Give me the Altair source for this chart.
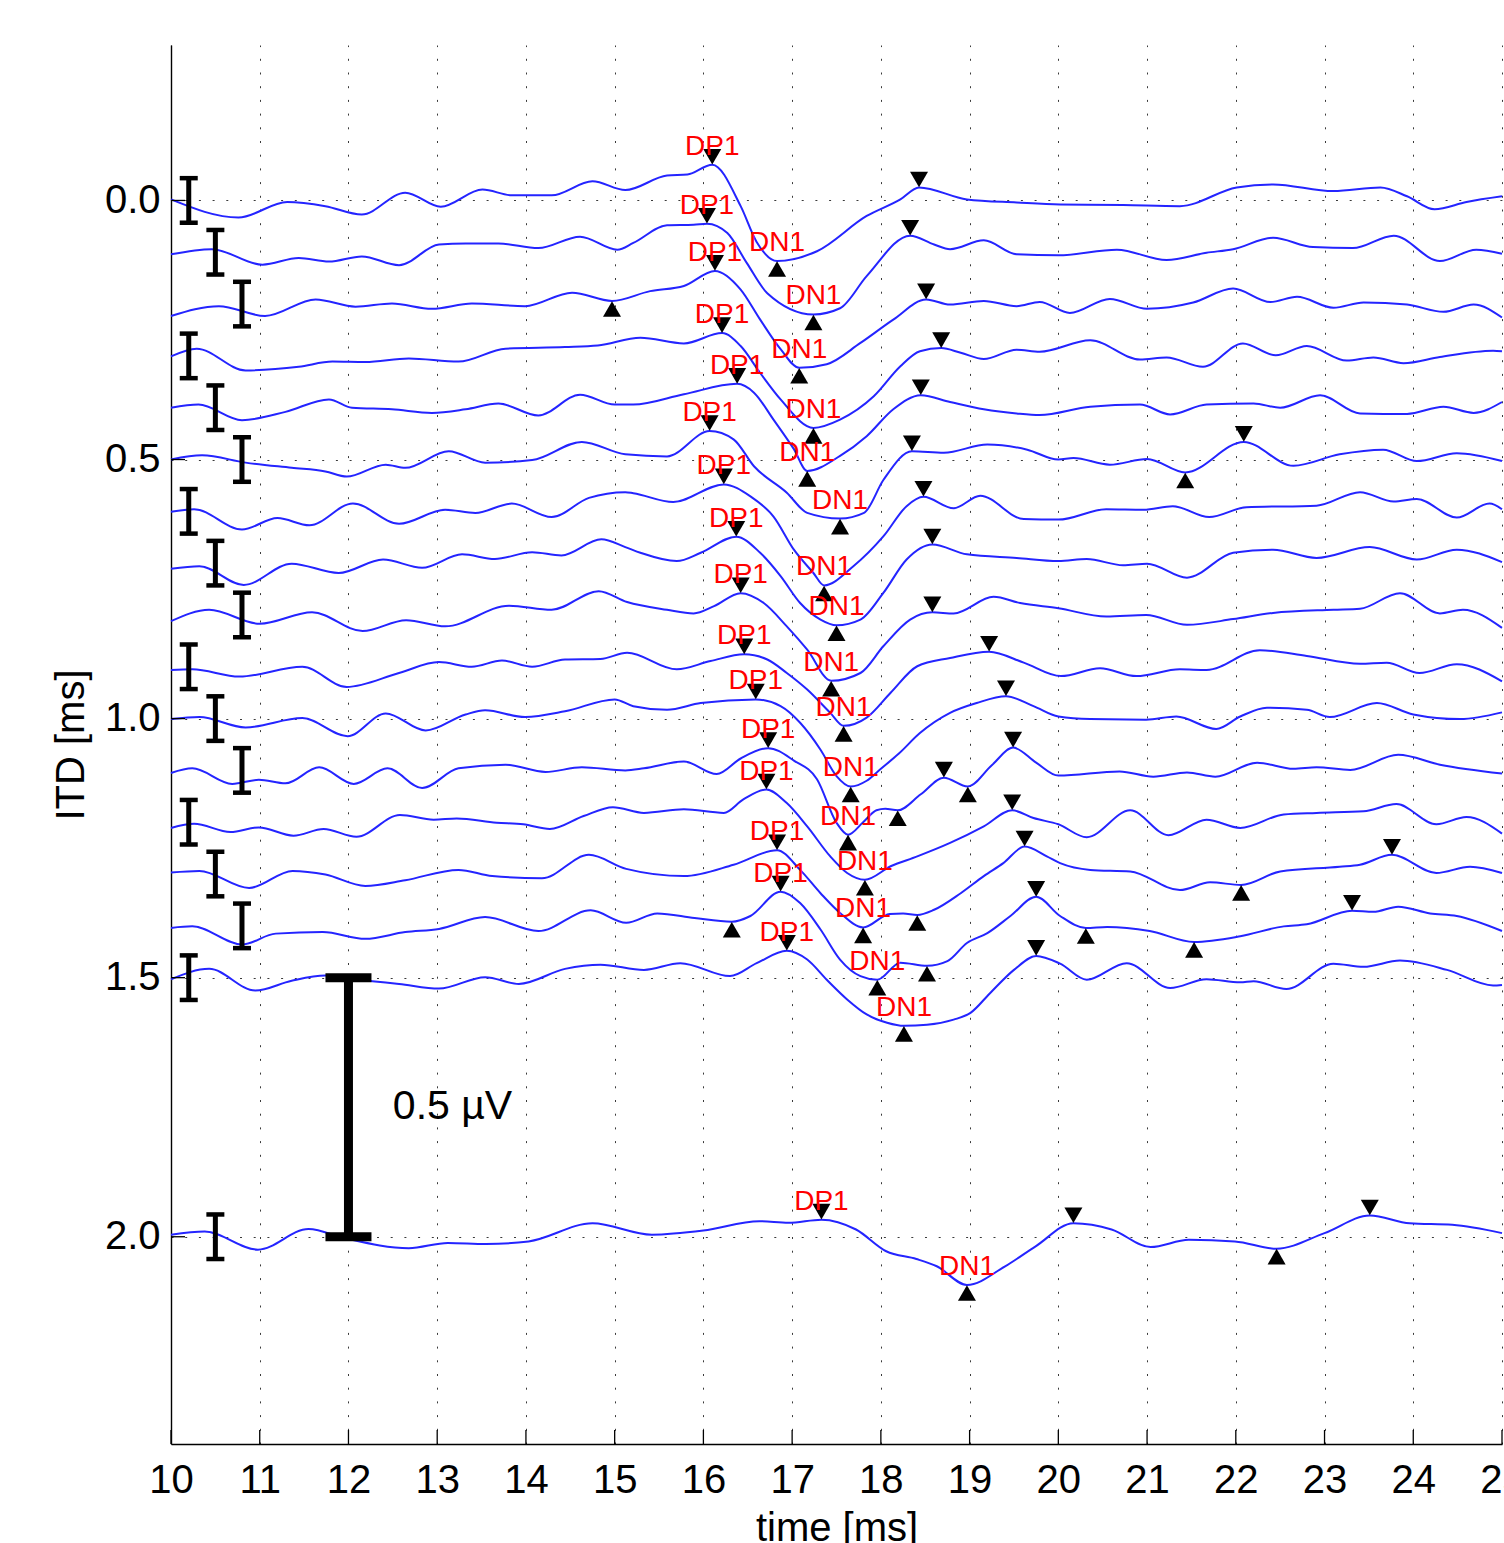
import altair as alt
import pandas as pd

# ------------------------------------------------------------------ data
# Averaged evoked responses for each ITD (ms).  Each trace is a list of
# (time in ms, amplitude in µV) samples at its turning points.
ITD_0_0 = [(10.00, 0.002), (10.76, -0.033), (11.31, -0.003), (11.74, -0.011), (12.15, -0.027),
           (12.64, 0.015), (13.04, -0.012), (13.51, 0.021), (13.84, 0.010), (14.29, 0.010),
           (14.75, 0.037), (15.12, 0.020), (15.59, 0.048), (15.82, 0.050), (16.10, 0.069),
           (16.42, -0.011), (16.60, -0.080), (16.83, -0.117), (17.28, -0.098), (17.84, -0.030),
           (18.22, 0.002), (18.43, 0.025), (18.97, 0.002), (19.53, -0.004), (20.02, -0.008),
           (20.73, -0.009), (21.37, -0.011), (22.01, 0.025), (22.42, 0.031), (23.10, 0.018),
           (23.63, 0.025), (23.93, 0.008), (24.24, -0.017), (24.60, -0.003), (25.00, 0.008)]
ITD_0_1 = [(10.00, -0.004), (10.46, 0.006), (11.03, -0.024), (11.44, -0.011), (11.78, -0.018),
           (12.15, -0.008), (12.57, -0.025), (13.02, 0.015), (13.32, 0.017), (13.69, 0.017),
           (14.14, 0.008), (14.61, 0.030), (15.03, 0.005), (15.21, 0.018), (15.59, 0.052),
           (15.89, 0.053), (16.04, 0.055), (16.27, 0.037), (16.49, -0.021), (16.72, -0.079),
           (17.24, -0.120), (17.54, -0.108), (17.84, -0.046), (18.33, 0.032), (18.60, 0.015),
           (18.78, 0.006), (19.16, 0.023), (19.53, -0.004), (20.00, -0.006), (20.66, 0.005),
           (21.22, -0.015), (21.67, -0.001), (21.97, 0.006), (22.42, 0.028), (22.87, 0.010),
           (23.32, 0.008), (23.78, 0.032), (24.30, -0.017), (24.71, 0.005), (25.00, -0.003)]
ITD_0_2 = [(10.00, -0.023), (10.54, -0.004), (11.06, -0.023), (11.63, 0.009), (12.08, -0.005),
           (12.49, 0.001), (12.94, -0.009), (13.39, 0.001), (13.99, -0.004), (14.52, 0.022),
           (14.97, 0.006), (15.40, 0.025), (15.78, 0.035), (16.13, 0.064), (16.42, 0.028),
           (16.64, -0.030), (16.87, -0.087), (17.08, -0.123), (17.39, -0.116), (17.77, -0.075),
           (18.14, -0.030), (18.51, 0.009), (18.78, -0.001), (19.16, 0.006), (19.53, -0.004),
           (19.79, 0.004), (20.13, -0.017), (20.58, 0.010), (21.00, -0.009), (21.52, 0.003),
           (21.97, 0.030), (22.39, 0.004), (22.69, 0.014), (23.10, -0.007), (23.44, 0.003),
           (23.93, -0.001), (24.34, -0.015), (24.68, -0.001), (25.00, -0.026)]
ITD_0_3 = [(10.00, -0.001), (10.29, 0.014), (10.84, -0.028), (11.44, -0.021), (11.82, -0.011),
           (12.19, -0.012), (12.68, -0.005), (13.24, -0.011), (13.77, 0.014), (14.44, 0.017),
           (14.81, 0.020), (15.29, 0.035), (15.78, 0.024), (16.21, 0.044), (16.42, 0.019),
           (16.64, -0.033), (16.87, -0.084), (17.24, -0.139), (17.54, -0.123), (17.92, -0.078),
           (18.22, -0.020), (18.44, 0.009), (18.68, 0.015), (18.90, 0.006), (19.16, -0.006),
           (19.53, 0.012), (19.79, 0.008), (20.36, 0.030), (20.92, -0.007), (21.22, -0.003),
           (21.63, -0.021), (22.08, 0.024), (22.45, 0.001), (22.80, 0.019), (23.25, -0.009),
           (23.55, -0.003), (23.89, -0.014), (24.30, -0.002), (24.90, 0.010), (25.00, 0.009)]
ITD_0_4 = [(10.00, 0.000), (10.31, 0.006), (10.80, -0.024), (11.29, -0.008), (11.78, 0.016),
           (12.04, 0.000), (12.49, -0.003), (12.94, -0.010), (13.32, -0.003), (13.69, 0.008),
           (14.14, -0.015), (14.61, 0.025), (15.00, 0.006), (15.21, 0.006), (15.78, 0.026),
           (16.38, 0.046), (16.57, 0.029), (16.79, -0.023), (17.02, -0.080), (17.17, -0.122),
           (17.54, -0.093), (17.84, -0.055), (18.14, -0.003), (18.45, 0.024), (18.78, 0.011),
           (19.16, -0.003), (19.53, -0.011), (19.79, -0.014), (20.36, 0.002), (20.92, 0.006),
           (21.26, -0.013), (21.67, 0.006), (22.20, 0.008), (22.50, 0.000), (22.95, 0.024),
           (23.40, -0.011), (23.93, -0.012), (24.34, 0.002), (24.68, -0.010), (25.00, 0.011)]
ITD_0_5 = [(10.00, 0.000), (10.35, 0.008), (10.84, -0.006), (11.36, -0.016), (11.74, -0.023),
           (11.98, -0.033), (12.42, -0.010), (12.64, -0.016), (13.13, 0.016), (13.54, -0.006),
           (14.07, -0.001), (14.63, 0.034), (15.12, 0.010), (15.59, 0.006), (16.07, 0.055),
           (16.34, 0.039), (16.57, -0.013), (16.94, -0.064), (17.17, -0.103), (17.54, -0.114),
           (17.81, -0.103), (18.03, -0.039), (18.35, 0.016), (18.71, 0.013), (19.20, 0.029),
           (19.65, 0.019), (20.00, 0.000), (20.17, 0.003), (20.58, -0.010), (21.00, 0.001),
           (21.43, -0.025), (22.09, 0.034), (22.65, -0.012), (23.17, 0.010), (23.66, 0.019),
           (24.04, -0.003), (24.49, 0.012), (25.00, -0.003)]
ITD_0_6 = [(10.00, -0.001), (10.26, 0.004), (10.80, -0.035), (11.20, -0.013), (11.56, -0.027),
           (12.05, 0.015), (12.57, -0.024), (13.09, 0.003), (13.43, -0.003), (13.84, 0.015),
           (14.29, -0.011), (14.71, 0.026), (15.12, 0.037), (15.21, 0.035), (15.66, 0.018),
           (16.23, 0.052), (16.53, 0.029), (16.79, -0.010), (17.02, -0.074), (17.24, -0.119),
           (17.36, -0.143), (17.69, -0.106), (18.03, -0.048), (18.29, 0.010), (18.48, 0.028),
           (18.82, 0.006), (19.12, 0.030), (19.61, -0.015), (20.00, -0.016), (20.54, 0.004),
           (20.96, 0.003), (21.29, 0.010), (21.70, -0.011), (22.12, 0.008), (22.91, 0.011),
           (23.40, 0.037), (23.78, 0.019), (24.04, 0.024), (24.49, -0.012), (24.86, 0.015),
           (25.00, 0.004)]
ITD_0_7 = [(10.00, -0.011), (10.32, -0.006), (10.82, -0.042), (11.36, -0.001), (11.89, -0.019),
           (12.39, 0.007), (12.83, -0.009), (13.28, 0.017), (13.65, 0.008), (14.07, 0.021),
           (14.40, 0.015), (14.85, 0.046), (15.12, 0.031), (15.29, 0.020), (15.70, 0.004),
           (15.97, 0.020), (16.37, 0.051), (16.64, 0.020), (16.87, -0.025), (17.09, -0.077),
           (17.32, -0.109), (17.50, -0.120), (17.77, -0.109), (18.03, -0.057), (18.29, 0.007),
           (18.58, 0.036), (18.97, 0.017), (19.53, 0.010), (20.00, 0.004), (20.32, 0.008),
           (20.73, -0.004), (21.00, -0.001), (21.45, -0.028), (21.97, 0.020), (22.42, 0.026),
           (22.91, 0.010), (23.51, 0.031), (24.04, 0.007), (24.49, 0.026), (25.00, 0.002)]
ITD_0_8 = [(10.00, -0.012), (10.43, 0.010), (11.00, -0.017), (11.59, 0.005), (12.16, -0.031),
           (12.65, -0.010), (13.09, -0.022), (13.81, 0.018), (14.29, 0.010), (14.82, 0.046),
           (15.14, 0.025), (15.59, 0.010), (15.89, 0.003), (16.12, 0.017), (16.42, 0.042),
           (16.68, 0.023), (16.94, -0.022), (17.17, -0.067), (17.44, -0.127), (17.77, -0.112),
           (18.03, -0.060), (18.33, -0.009), (18.58, 0.005), (18.82, 0.003), (19.27, 0.035),
           (19.57, 0.023), (20.00, 0.013), (20.54, -0.003), (20.99, 0.000), (21.45, -0.019),
           (21.97, -0.008), (22.42, 0.004), (23.10, 0.010), (23.40, 0.012), (23.85, 0.042),
           (24.30, 0.003), (24.56, 0.010), (25.00, -0.025)]
ITD_0_9 = [(10.00, -0.006), (10.24, -0.005), (10.77, -0.019), (11.48, 0.000), (11.98, -0.039),
           (12.57, -0.012), (13.02, 0.009), (13.39, 0.000), (13.73, 0.012), (14.07, 0.000),
           (14.44, 0.014), (14.84, 0.015), (15.14, 0.027), (15.70, -0.005), (16.08, 0.011),
           (16.46, 0.024), (16.72, 0.014), (16.94, -0.012), (17.17, -0.044), (17.43, -0.089),
           (17.58, -0.114), (17.84, -0.098), (18.11, -0.050), (18.41, 0.001), (18.78, 0.017),
           (19.22, 0.029), (19.61, 0.008), (20.03, -0.018), (20.47, -0.003), (20.88, -0.018),
           (21.37, -0.005), (21.67, -0.006), (22.27, 0.032), (22.80, 0.021), (23.40, 0.006),
           (23.70, 0.008), (24.07, -0.012), (24.49, 0.005), (25.00, -0.028)]
ITD_1_0 = [(10.00, -0.001), (10.32, 0.003), (10.84, -0.017), (11.48, 0.001), (11.99, -0.034),
           (12.42, 0.010), (12.87, -0.023), (13.32, 0.008), (13.54, 0.016), (13.99, 0.003),
           (14.44, 0.014), (15.00, 0.037), (15.21, 0.024), (15.59, 0.017), (15.97, 0.030),
           (16.59, 0.037), (16.87, 0.024), (17.09, -0.008), (17.32, -0.060), (17.50, -0.111),
           (17.66, -0.131), (17.84, -0.120), (18.00, -0.097), (18.20, -0.068), (18.44, -0.028),
           (18.78, 0.011), (19.08, 0.030), (19.41, 0.043), (19.72, 0.024), (20.00, 0.004),
           (20.36, -0.001), (20.99, -0.002), (21.33, 0.004), (21.78, -0.020), (22.05, 0.004),
           (22.35, 0.021), (22.80, 0.017), (23.06, 0.003), (23.59, 0.030), (24.00, 0.008),
           (24.53, -0.001), (25.00, 0.012)]
ITD_1_1 = [(10.00, -0.005), (10.24, 0.004), (10.69, -0.026), (10.99, -0.018), (11.29, -0.025),
           (11.67, 0.006), (12.06, -0.026), (12.44, 0.004), (12.83, -0.034), (13.24, 0.004),
           (13.77, 0.011), (14.22, -0.003), (14.63, 0.006), (15.12, 0.000), (15.33, 0.004),
           (15.78, 0.017), (16.15, -0.007), (16.42, 0.023), (16.73, 0.043), (17.02, 0.019),
           (17.28, -0.017), (17.50, -0.101), (17.63, -0.124), (17.80, -0.100), (17.95, -0.077),
           (18.05, -0.074), (18.19, -0.077), (18.45, -0.046), (18.71, -0.014), (18.98, -0.031),
           (19.25, 0.010), (19.49, 0.044), (19.75, 0.015), (20.00, -0.010), (20.69, -0.002),
           (21.07, -0.012), (21.45, -0.004), (21.77, -0.012), (22.24, 0.015), (22.65, 0.003),
           (22.91, 0.006), (23.29, 0.001), (23.83, 0.030), (24.30, 0.011), (25.00, -0.006)]
ITD_1_2 = [(10.00, -0.011), (10.26, -0.003), (10.67, -0.019), (10.99, -0.010), (11.38, -0.026),
           (11.72, -0.013), (12.09, -0.028), (12.58, 0.014), (12.96, 0.005), (13.22, 0.007),
           (13.67, -0.001), (13.97, -0.004), (14.27, -0.013), (14.65, 0.012), (14.98, 0.029),
           (15.33, 0.018), (15.78, 0.025), (16.23, 0.018), (16.45, 0.044), (16.71, 0.063),
           (16.94, 0.037), (17.17, -0.008), (17.43, -0.066), (17.62, -0.098), (17.82, -0.111),
           (18.11, -0.085), (18.41, -0.066), (18.78, -0.040), (19.16, -0.008), (19.48, 0.023),
           (19.72, 0.008), (20.00, -0.004), (20.32, -0.029), (20.81, 0.023), (21.24, -0.025),
           (21.67, 0.005), (22.05, -0.011), (22.54, 0.015), (22.91, 0.018), (23.44, 0.021),
           (23.81, 0.035), (24.26, -0.004), (24.60, 0.010), (25.00, -0.022)]
ITD_1_3 = [(10.00, 0.003), (10.32, 0.006), (10.88, -0.027), (11.37, 0.006), (11.74, -0.001),
           (12.19, -0.023), (12.64, -0.012), (13.24, 0.008), (13.62, -0.004), (14.18, -0.008),
           (14.71, 0.037), (15.13, 0.010), (15.78, -0.004), (16.34, 0.018), (16.83, 0.046),
           (17.09, 0.008), (17.32, -0.037), (17.54, -0.075), (17.80, -0.103), (18.10, -0.077),
           (18.25, -0.076), (18.41, -0.079), (18.60, -0.069), (18.90, -0.037), (19.16, -0.004),
           (19.38, 0.021), (19.62, 0.053), (19.87, 0.034), (20.02, 0.021), (20.36, 0.008),
           (20.81, 0.005), (21.37, -0.031), (21.71, -0.016), (22.06, -0.021), (22.50, 0.005),
           (23.17, 0.014), (23.40, 0.018), (23.76, 0.037), (24.26, 0.002), (24.64, 0.014),
           (25.00, 0.002)]
ITD_1_4 = [(10.00, -0.004), (10.24, -0.001), (10.80, -0.036), (11.18, -0.015), (11.71, -0.012),
           (12.19, -0.025), (12.64, -0.012), (13.02, -0.006), (13.54, 0.017), (14.14, -0.010),
           (14.73, 0.030), (15.13, 0.006), (15.48, 0.024), (15.90, 0.015), (16.32, 0.008),
           (16.53, 0.019), (16.87, 0.066), (17.09, 0.044), (17.32, -0.007), (17.54, -0.065),
           (17.77, -0.097), (17.96, -0.104), (18.22, -0.071), (18.52, -0.077), (18.75, -0.068),
           (18.97, -0.033), (19.20, -0.014), (19.46, 0.019), (19.75, 0.056), (20.02, 0.019),
           (20.31, -0.004), (20.55, -0.002), (21.03, -0.010), (21.53, -0.031), (22.05, -0.020),
           (22.54, -0.001), (22.80, 0.003), (23.31, 0.029), (23.55, 0.027), (23.83, 0.037),
           (24.19, 0.024), (24.49, 0.019), (25.00, -0.010)]
ITD_1_5 = [(10.00, -0.003), (10.43, 0.017), (10.95, -0.025), (11.36, -0.006), (11.74, 0.004),
           (12.27, -0.007), (12.57, -0.012), (13.02, -0.021), (13.54, 0.001), (13.92, -0.012),
           (14.44, 0.017), (14.84, 0.025), (15.33, 0.015), (15.74, 0.028), (16.30, 0.003),
           (16.60, 0.028), (16.94, 0.052), (17.17, 0.035), (17.39, -0.004), (17.62, -0.042),
           (17.84, -0.071), (18.07, -0.087), (18.26, -0.093), (18.52, -0.091), (18.82, -0.081),
           (19.01, -0.068), (19.23, -0.030), (19.50, 0.015), (19.75, 0.042), (20.02, 0.027),
           (20.32, -0.004), (20.77, 0.028), (21.26, -0.020), (21.67, -0.003), (22.05, -0.009),
           (22.20, -0.007), (22.57, -0.022), (23.10, 0.027), (23.44, 0.021), (23.85, 0.033),
           (24.38, 0.015), (24.90, -0.015), (25.00, -0.014)]
ITD_2_0 = [(10.00, 0.004), (10.38, 0.010), (10.98, -0.025), (11.55, 0.015), (11.96, -0.003),
           (12.68, -0.022), (13.12, -0.012), (13.55, -0.014), (14.03, -0.009), (14.75, 0.026),
           (15.42, 0.004), (16.00, 0.012), (16.63, 0.030), (16.96, 0.027), (17.33, 0.033),
           (17.72, 0.014), (18.06, -0.028), (18.40, -0.043), (18.63, -0.057), (18.97, -0.093),
           (19.40, -0.057), (19.74, -0.019), (20.17, 0.026), (20.60, 0.014), (21.04, -0.020),
           (21.47, -0.006), (21.99, -0.009), (22.46, -0.023), (23.00, 0.007), (23.51, 0.041),
           (23.96, 0.026), (24.44, 0.023), (25.00, 0.007)]

TRACES = [(0.0, ITD_0_0), (0.1, ITD_0_1), (0.2, ITD_0_2), (0.3, ITD_0_3), (0.4, ITD_0_4),
          (0.5, ITD_0_5), (0.6, ITD_0_6), (0.7, ITD_0_7), (0.8, ITD_0_8), (0.9, ITD_0_9),
          (1.0, ITD_1_0), (1.1, ITD_1_1), (1.2, ITD_1_2), (1.3, ITD_1_3), (1.4, ITD_1_4),
          (1.5, ITD_1_5), (2.0, ITD_2_0)]

# Picked extrema: (ITD, time ms, "P" = peak / "N" = trough, label)
PICKS = [
    (0.0, 16.10, "P", "DP1"), (0.0, 16.83, "N", "DN1"), (0.0, 18.43, "P", ""),
    (0.1, 16.04, "P", "DP1"), (0.1, 17.24, "N", "DN1"), (0.1, 18.33, "P", ""),
    (0.2, 14.97, "N", ""), (0.2, 16.13, "P", "DP1"), (0.2, 17.08, "N", "DN1"), (0.2, 18.51, "P", ""),
    (0.3, 16.21, "P", "DP1"), (0.3, 17.24, "N", "DN1"), (0.3, 18.68, "P", ""),
    (0.4, 16.38, "P", "DP1"), (0.4, 17.17, "N", "DN1"), (0.4, 18.45, "P", ""),
    (0.5, 16.07, "P", "DP1"), (0.5, 17.54, "N", "DN1"), (0.5, 18.35, "P", ""),
    (0.5, 21.43, "N", ""), (0.5, 22.09, "P", ""),
    (0.6, 16.23, "P", "DP1"), (0.6, 17.36, "N", "DN1"), (0.6, 18.48, "P", ""),
    (0.7, 16.37, "P", "DP1"), (0.7, 17.50, "N", "DN1"), (0.7, 18.58, "P", ""),
    (0.8, 16.42, "P", "DP1"), (0.8, 17.44, "N", "DN1"), (0.8, 18.58, "P", ""),
    (0.9, 16.46, "P", "DP1"), (0.9, 17.58, "N", "DN1"), (0.9, 19.22, "P", ""),
    (1.0, 16.59, "P", "DP1"), (1.0, 17.66, "N", "DN1"), (1.0, 19.41, "P", ""),
    (1.1, 16.73, "P", "DP1"), (1.1, 17.63, "N", "DN1"), (1.1, 18.19, "N", ""),
    (1.1, 18.71, "P", ""), (1.1, 18.98, "N", ""), (1.1, 19.49, "P", ""),
    (1.2, 16.71, "P", "DP1"), (1.2, 17.82, "N", "DN1"), (1.2, 19.48, "P", ""),
    (1.3, 16.83, "P", "DP1"), (1.3, 17.80, "N", "DN1"), (1.3, 18.41, "N", ""),
    (1.3, 19.62, "P", ""), (1.3, 22.06, "N", ""), (1.3, 23.76, "P", ""),
    (1.4, 16.32, "N", ""), (1.4, 16.87, "P", "DP1"), (1.4, 17.96, "N", "DN1"),
    (1.4, 18.52, "N", ""), (1.4, 19.75, "P", ""), (1.4, 20.31, "N", ""),
    (1.4, 21.53, "N", ""), (1.4, 23.31, "P", ""),
    (1.5, 16.94, "P", "DP1"), (1.5, 18.26, "N", "DN1"), (1.5, 19.75, "P", ""),
    (2.0, 17.33, "P", "DP1"), (2.0, 18.97, "N", "DN1"), (2.0, 20.17, "P", ""),
    (2.0, 22.46, "N", ""), (2.0, 23.51, "P", ""),
]

NOISE_HALF_UV = 0.043              # half-height of the residual-noise bar on each trace
NOISE_BAR_TIMES = [10.2, 10.5, 10.8]
SCALE_BAR_UV = 0.5
SCALE_BAR_TIME = 12.0
SCALE_BAR_BASE = 2.0

X_TICKS = list(range(10, 26))
Y_TICKS = [0.0, 0.5, 1.0, 1.5, 2.0]

# ------------------------------------------------------------------ tables
# Traces are stacked at their ITD; 1 µV of response spans 1 ms of the ITD axis.
rows = []
for itd, pts in TRACES:
    for t, a in pts:
        rows.append({"itd": itd, "t": t, "y": itd - a})
traces = pd.DataFrame(rows)

lookup = dict(TRACES)
pick_rows = []
for itd, t, kind, label in PICKS:
    amp = min(lookup[itd], key=lambda p: abs(p[0] - t))[1]
    pick_rows.append({"t": t, "y": itd - amp, "kind": kind, "label": label})
picks = pd.DataFrame(pick_rows)
peaks = picks[picks.kind == "P"]
troughs = picks[picks.kind == "N"]
labels = picks[picks.label != ""]

noise = pd.DataFrame([
    {"t": NOISE_BAR_TIMES[i % 3], "y": itd - NOISE_HALF_UV, "y2": itd + NOISE_HALF_UV}
    for i, (itd, _) in enumerate(TRACES)
])
noise_caps = pd.concat([noise[["t", "y"]], noise[["t", "y2"]].rename(columns={"y2": "y"})])

bar = pd.DataFrame([{"t": SCALE_BAR_TIME, "y": SCALE_BAR_BASE - SCALE_BAR_UV, "y2": SCALE_BAR_BASE}])
bar_caps = pd.DataFrame([{"t": SCALE_BAR_TIME, "y": SCALE_BAR_BASE - SCALE_BAR_UV},
                         {"t": SCALE_BAR_TIME, "y": SCALE_BAR_BASE}])
bar_text = pd.DataFrame([{"t": SCALE_BAR_TIME + 0.5, "y": SCALE_BAR_BASE - SCALE_BAR_UV / 2,
                          "text": f"{SCALE_BAR_UV} µV"}])

xticks = pd.DataFrame({"t": X_TICKS})
yticks = pd.DataFrame({"y": Y_TICKS})

# ------------------------------------------------------------------ chart
W, H = 1331, 1399
FONT = "Liberation Sans"
BLUE = "#2424ff"

xs = alt.Scale(domain=[10, 25], nice=False, zero=False)
ys = alt.Scale(domain=[-0.3, 2.4], reverse=True, nice=False, zero=False)

common = dict(grid=True, gridDash=[2, 11.7], gridColor="#3a3a3a", gridWidth=1, gridOpacity=1,
              ticks=False, tickSize=0, domain=True, domainColor="black", domainWidth=1.4,
              labelFont=FONT, labelFontSize=40, labelColor="black", labelOverlap=False,
              titleFont=FONT, titleFontSize=40, titleFontWeight="normal", titleColor="black")

x_axis = alt.Axis(values=X_TICKS, format="d", title="time [ms]", labelPadding=16,
                  labelFlush=False, titleX=W / 2, titleY=96, titleAlign="center",
                  titleBaseline="alphabetic", **common)
y_axis = alt.Axis(values=Y_TICKS, format=".1f", title="ITD [ms]", labelPadding=11,
                  titleAngle=270, titleX=-100, titleY=H / 2, titleAlign="center",
                  titleBaseline="middle", **common)


def X(f="t"):
    return alt.X(f"{f}:Q", scale=xs, axis=x_axis)


def Y(f="y"):
    return alt.Y(f"{f}:Q", scale=ys, axis=y_axis)


lines = alt.Chart(traces).mark_line(interpolate="monotone", color=BLUE, strokeWidth=2).encode(
    x=X(), y=Y(), detail="itd:N")

noise_stem = alt.Chart(noise).mark_rule(color="black", strokeWidth=5).encode(
    x=X(), y=Y(), y2="y2:Q")
noise_cap = alt.Chart(noise_caps).mark_tick(
    orient="horizontal", size=18, thickness=4.5, color="black", opacity=1).encode(x=X(), y=Y())

bar_stem = alt.Chart(bar).mark_rule(color="black", strokeWidth=9).encode(x=X(), y=Y(), y2="y2:Q")
bar_cap = alt.Chart(bar_caps).mark_tick(
    orient="horizontal", size=46, thickness=9, color="black", opacity=1).encode(x=X(), y=Y())
bar_label = alt.Chart(bar_text).mark_text(
    font=FONT, fontSize=41, color="black", align="left", baseline="middle").encode(
    x=X(), y=Y(), text="text:N")

peak_pts = alt.Chart(peaks).mark_point(
    shape="triangle-down", filled=True, size=324, color="black", opacity=1, yOffset=-8
).encode(x=X(), y=Y())
trough_pts = alt.Chart(troughs).mark_point(
    shape="triangle-up", filled=True, size=324, color="black", opacity=1, yOffset=8
).encode(x=X(), y=Y())
pick_text = alt.Chart(labels).mark_text(
    font=FONT, fontSize=28, color="#ff0000", align="center", baseline="alphabetic", dy=-10
).encode(x=X(), y=Y(), text="label:N")

x_tick_marks = alt.Chart(xticks).mark_rule(color="black", strokeWidth=1.3).encode(
    x=X(), y=alt.value(H), y2=alt.value(H - 14))
y_tick_marks = alt.Chart(yticks).mark_rule(color="black", strokeWidth=1.3).encode(
    y=Y(), x=alt.value(0), x2=alt.value(14))

chart = alt.layer(
    lines, noise_stem, noise_cap, bar_stem, bar_cap, bar_label,
    peak_pts, trough_pts, pick_text, x_tick_marks, y_tick_marks,
).properties(
    width=W, height=H,
    padding={"left": 171, "top": 45, "right": 2, "bottom": 99},
    autosize="none", background="white",
).configure_view(stroke=None)

chart.save("out.html", embed_options={"renderer": "svg", "actions": False})
